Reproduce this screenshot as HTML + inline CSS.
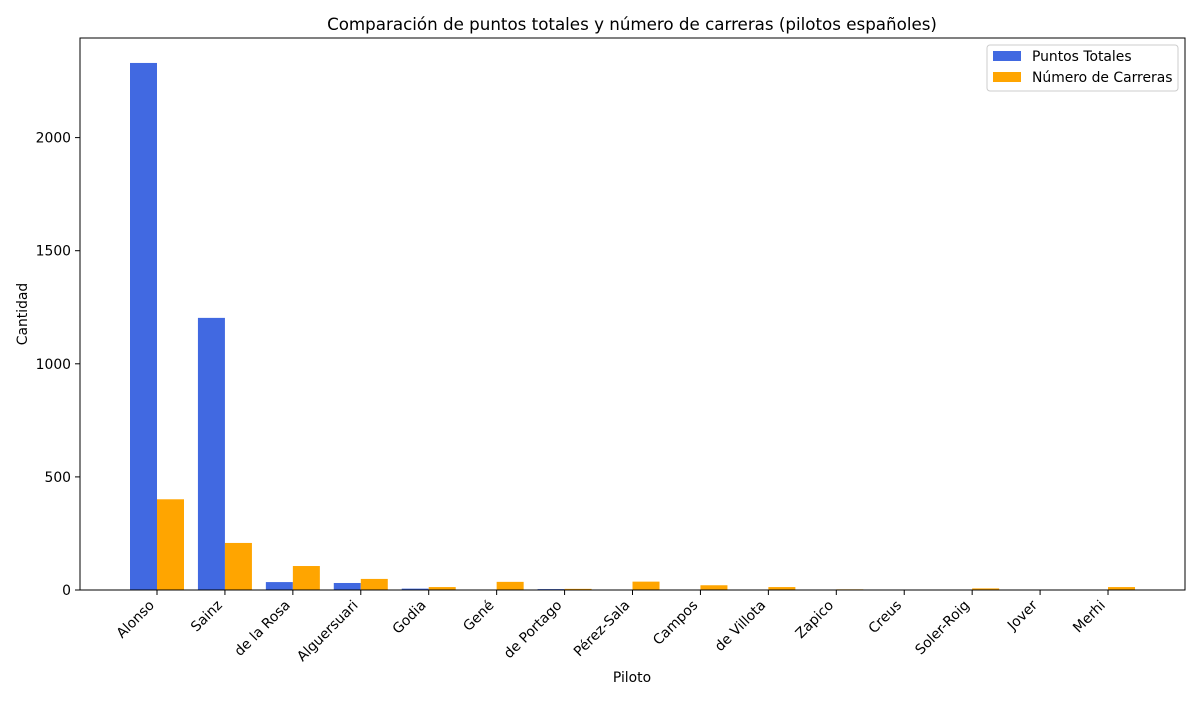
<!DOCTYPE html>
<html><head><meta charset="utf-8"><style>
body{margin:0;background:#fff;font-family:"Liberation Sans","DejaVu Sans",sans-serif}
</style></head><body>
<svg id="c" width="1200" height="700" xmlns="http://www.w3.org/2000/svg" font-family="DejaVu Sans, Liberation Sans, sans-serif">
<text x="632" y="30" text-anchor="middle" font-size="16.7">Comparación de puntos totales y número de carreras (pilotos españoles)</text>
<g id="plot"></g>
<rect x="80" y="38" width="1105" height="552" fill="none" stroke="#000" stroke-width="1"/>
<text x="632" y="682" text-anchor="middle" font-size="13.9">Piloto</text>
<text transform="translate(27,314) rotate(-90)" text-anchor="middle" font-size="13.9">Cantidad</text>
<g>
<rect x="987" y="45" width="191" height="46" fill="#fff" stroke="#ccc" rx="3"/>
<rect x="993" y="51" width="28" height="10" fill="#4169e1"/>
<text x="1032" y="61" font-size="13.9">Puntos Totales</text>
<rect x="993" y="72" width="28" height="10" fill="#ffa500"/>
<text x="1032" y="82" font-size="13.9">Número de Carreras</text>
</g>
</svg>
<script>
const categories=["Alonso","Sainz","de la Rosa","Alguersuari","Godia","Gené","de Portago","Pérez-Sala","Campos","de Villota","Zapico","Creus","Soler-Roig","Jover","Merhi"];
const points=[2330,1203,35,31,6,2,4,1,0,0,0,0,0,0,0];
const races=[401,208,106,49,13,36,5,37,21,13,3,1,7,1,13];
const yTicks=[0,500,1000,1500,2000];
const ns="http://www.w3.org/2000/svg";
const g=document.getElementById('plot');
const x=i=>157+i*67.93;
const y=v=>590-v*0.2262;
const bw=27;
function el(t,a){const e=document.createElementNS(ns,t);for(const k in a)e.setAttribute(k,a[k]);g.appendChild(e);return e;}
yTicks.forEach(v=>{
 const l=el('line',{x1:75,x2:80,y1:y(v),y2:y(v),stroke:'#000'});
 
 
 const t=el('text',{x:71,y:y(v)+5,'text-anchor':'end','font-size':13.9});
 t.textContent=v;
 
 
});
categories.forEach((c,i)=>{
 const b1=el('rect',{x:x(i)-bw,y:y(points[i]),width:bw,height:590-y(points[i]),fill:'#4169e1'});
 
 
 const b2=el('rect',{x:x(i),y:y(races[i]),width:bw,height:590-y(races[i]),fill:'#ffa500'});
 
 
 const tk=el('line',{x1:x(i),x2:x(i),y1:590,y2:595,stroke:'#000'});
 
 
 const t=el('text',{transform:`translate(${x(i)-2},${606}) rotate(-45)`,'text-anchor':'end','font-size':13.9});
 t.textContent=c;
 
 
});
</script>
</body></html>
